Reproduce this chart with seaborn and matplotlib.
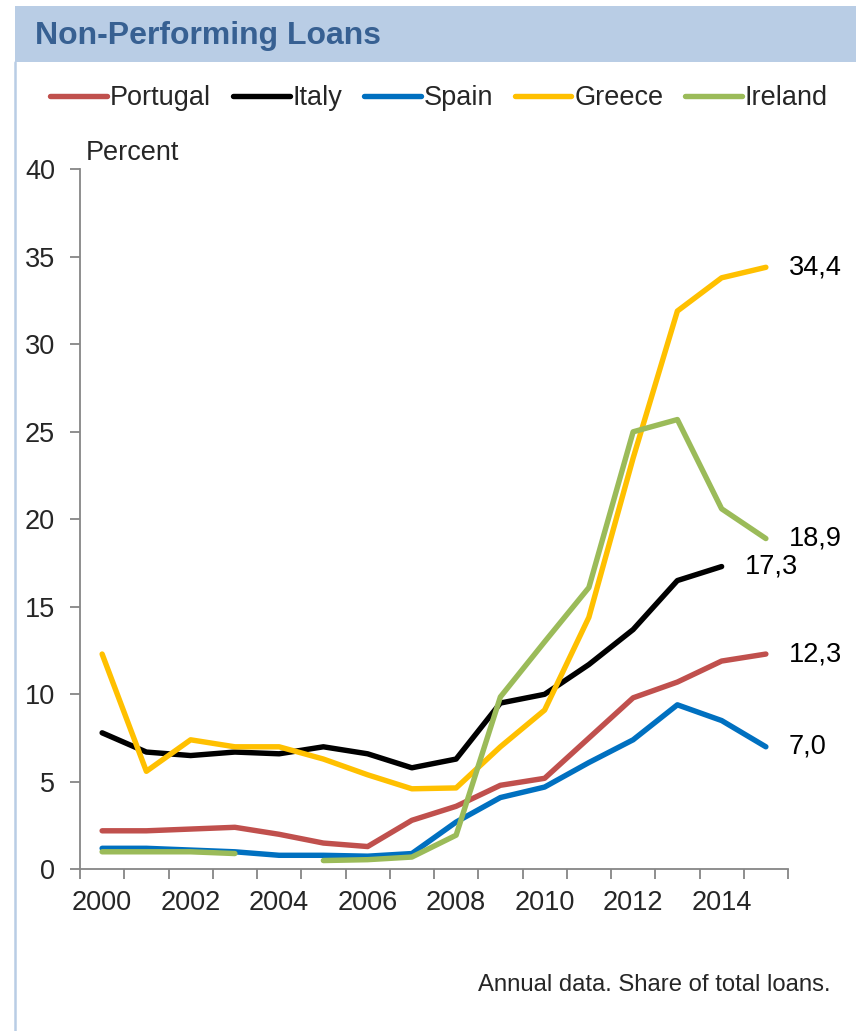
import numpy as np
import pandas as pd
import matplotlib
matplotlib.use("Agg")
import matplotlib.pyplot as plt
from matplotlib.lines import Line2D
from matplotlib.patches import Rectangle
import seaborn as sns

years = list(range(2000, 2016))
portugal = [2.2, 2.2, 2.3, 2.4, 2.0, 1.5, 1.3, 2.8, 3.6, 4.8, 5.2, 7.5, 9.8, 10.7, 11.9, 12.3]
italy = [7.8, 6.7, 6.5, 6.7, 6.6, 7.0, 6.6, 5.8, 6.3, 9.5, 10.0, 11.7, 13.7, 16.5, 17.3, np.nan]
spain = [1.2, 1.2, 1.1, 1.0, 0.8, 0.8, 0.75, 0.9, 2.7, 4.1, 4.7, 6.1, 7.4, 9.4, 8.5, 7.0]
greece = [12.3, 5.6, 7.4, 7.0, 7.0, 6.3, 5.4, 4.6, 4.65, 7.0, 9.1, 14.4, 23.5, 31.9, 33.8, 34.4]
ireland = [1.0, 1.0, 1.0, 0.9, np.nan, 0.5, 0.55, 0.7, 1.95, 9.85, 13.0, 16.1, 25.0, 25.7, 20.6, 18.9]

countries = ["Portugal", "Italy", "Spain", "Greece", "Ireland"]
series = [portugal, italy, spain, greece, ireland]
colors = ["#C0504D", "#000000", "#0070C0", "#FFC000", "#9BBB59"]
end_labels = ["12,3", "17,3", "7,0", "34,4", "18,9"]

title = "Non-Performing Loans"
ylabel = "Percent"
footnote = "Annual data. Share of total loans."
ytick_vals = [0, 5, 10, 15, 20, 25, 30, 35, 40]
xtick_labels = [2000, 2002, 2004, 2006, 2008, 2010, 2012, 2014]

# long data with segment ids so gaps are kept
rows = []
for c, vals in zip(countries, series):
    seg = 0
    for y, v in zip(years, vals):
        if np.isnan(v):
            seg += 1
            continue
        rows.append({"year": y, "value": v, "country": c, "seg": f"{c}_{seg}"})
df = pd.DataFrame(rows)

sns.set_style("white")
plt.rcParams["font.family"] = ["Liberation Sans", "DejaVu Sans"]

FS = 19.5
W, H = 856, 1031
fig = plt.figure(figsize=(W / 100, H / 100), dpi=100)
fig.patch.set_facecolor("white")

# header band and left border
fig.patches.append(Rectangle((15 / W, 1 - 62 / H), 1 - 15 / W, 56 / H,
                             transform=fig.transFigure, facecolor="#B9CDE5",
                             edgecolor="none", zorder=0))
fig.lines.append(Line2D([15.5 / W, 15.5 / W], [0, 1 - 62 / H], transform=fig.transFigure,
                        color="#B9CDE5", lw=1.8))
fig.text(35 / W, 1 - 36 / H, title, fontsize=23, fontweight="bold",
         color="#376092", ha="left", va="center")

ax = fig.add_axes([80 / W, 1 - 869.3 / H, (788 - 80) / W, (869.3 - 169.3) / H])
palette = dict(zip(countries, colors))
sns.lineplot(data=df, x="year", y="value", hue="country", units="seg",
             estimator=None, palette=palette, hue_order=countries,
             lw=3.9, legend=False, ax=ax, solid_capstyle="round")

ax.set_xlim(1999.5, 2015.5)
ax.set_ylim(0, 40)
ax.set_xlabel("")
ax.set_ylabel("")

# category-style ticks between years, labels centered on years
ax.set_xticks(np.arange(1999.5, 2016, 1.0))
ax.set_xticklabels([])
ax.set_xticks(xtick_labels, minor=True)
ax.set_xticklabels([str(v) for v in xtick_labels], minor=True)
ax.tick_params(axis="x", which="major", length=7, width=1.3, color="#868686", direction="out")
ax.tick_params(axis="x", which="minor", length=0, pad=15, labelsize=FS)
ax.set_yticks(ytick_vals)
ax.set_yticklabels([str(v) for v in ytick_vals])
ax.tick_params(axis="y", length=7, width=1.3, color="#868686", direction="out",
               pad=11, labelsize=FS)
ax.tick_params(axis="both", which="both", bottom=True, left=True)

for s in ["top", "right"]:
    ax.spines[s].set_visible(False)
for s in ["left", "bottom"]:
    ax.spines[s].set_color("#868686")
    ax.spines[s].set_linewidth(1.3)
ax.grid(False)

# end labels
for c, vals, lab in zip(countries, series, end_labels):
    last = max(i for i, v in enumerate(vals) if not np.isnan(v))
    ax.text(years[last] + 0.52, vals[last], lab, fontsize=FS, ha="left",
            va="center", color="black", clip_on=False)

fig.text(86 / W, 1 - 153 / H, ylabel, fontsize=FS, ha="left", va="center")
fig.text(830 / W, 1 - 985 / H, footnote, fontsize=17.2, ha="right", va="center")

handles = [Line2D([0], [0], color=col, lw=3.9, solid_capstyle="round") for col in colors]
fig.legend(handles, countries, loc="center", bbox_to_anchor=(439 / W, 1 - 98 / H),
           ncol=5, frameon=False, fontsize=FS, handlelength=2.1, handletextpad=0.1,
           columnspacing=0.8, borderaxespad=0)

fig.savefig("out.png", dpi=100)
